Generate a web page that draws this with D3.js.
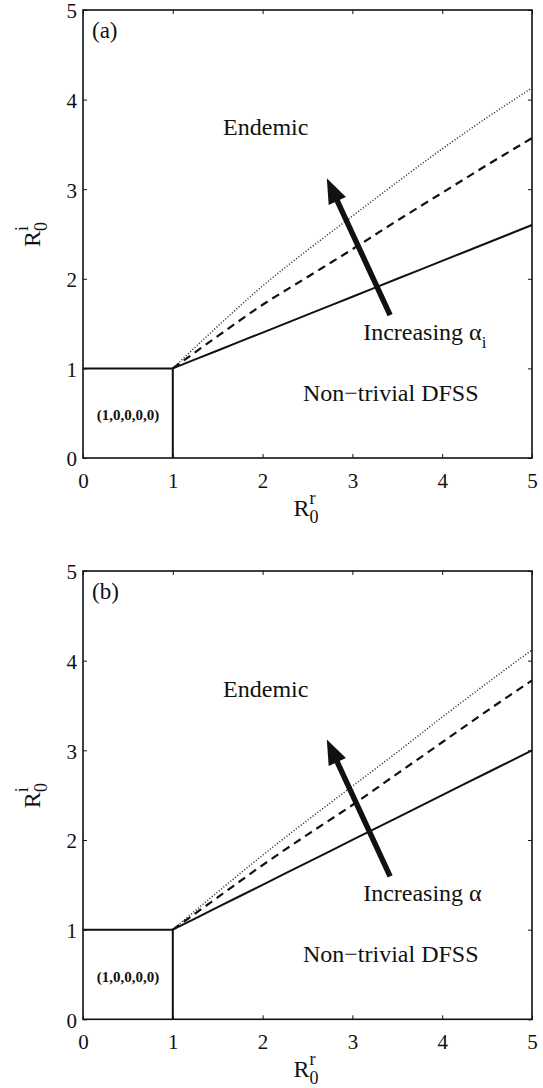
<!DOCTYPE html>
<html>
<head>
<meta charset="utf-8">
<script src="https://cdn.jsdelivr.net/npm/d3@7"></script>
<style>
  html, body { margin: 0; padding: 0; background: #fff; }
  svg { display: block; }
  text { font-family: "Liberation Serif", "Times New Roman", serif; fill: #111; }
</style>
</head>
<body>
<script>
// ---------- data ----------
const xTicks = [0, 1, 2, 3, 4, 5];
const yTicks = [0, 1, 2, 3, 4, 5];
const rr = [1, 1.5, 2, 2.5, 3, 3.5, 4, 4.5, 5];          // R0^r sample points
// panel (a)
const solidA  = [1, 1.2, 1.4, 1.6, 1.8, 2.0, 2.2, 2.4, 2.6];
const dashedA = [1, 1.36, 1.71, 2.02, 2.33, 2.65, 2.96, 3.27, 3.57];
const dottedA = [1, 1.47, 1.92, 2.32, 2.70, 3.08, 3.45, 3.80, 4.13];
// panel (b)
const solidB  = [1, 1.25, 1.5, 1.75, 2.0, 2.25, 2.5, 2.75, 3.0];
const dashedB = [1, 1.36, 1.72, 2.06, 2.39, 2.74, 3.09, 3.44, 3.78];
const dottedB = [1, 1.42, 1.83, 2.22, 2.60, 2.98, 3.37, 3.75, 4.12];
// trivial DFSS box boundary
const boxX = [0, 1, 1];
const boxY = [1, 1, 0];
// arrow (tail -> tip), data coordinates
const arrowFrom = [3.42, 1.595];
const arrowTo   = [2.715, 3.122];
// texts
const panelLabels = ["(a)", "(b)"];
const arrowSubs = ["i", ""];
const regionLabels = ["Endemic", "Non\u2212trivial DFSS"];
const boxLabel = "(1,0,0,0,0)";

// ---------- layout ----------
const W = 543, H = 1088;
const left = 83, right = 532;
const panels = [
  { top: 10,  bottom: 458,   solid: solidA, dashed: dashedA, dotted: dottedA },
  { top: 571, bottom: 1019.3, solid: solidB, dashed: dashedB, dotted: dottedB }
];

const svg = d3.select("body").append("svg").attr("width", W).attr("height", H);
svg.append("rect").attr("width", W).attr("height", H).attr("fill", "#fff");

panels.forEach((p, i) => {
  const x = d3.scaleLinear().domain([0, 5]).range([left, right]);
  const y = d3.scaleLinear().domain([0, 5]).range([p.bottom, p.top]);
  const g = svg.append("g");

  // axes (inward ticks on all sides)
  const ax = g.append("g").attr("transform", `translate(0,${p.bottom})`)
    .call(d3.axisBottom(x).tickValues(xTicks).tickFormat(d3.format("d")).tickSize(-4).tickSizeOuter(0).tickPadding(15));
  const ay = g.append("g").attr("transform", `translate(${left},0)`)
    .call(d3.axisLeft(y).tickValues(yTicks).tickFormat(d3.format("d")).tickSize(-4).tickSizeOuter(0).tickPadding(6));
  const at = g.append("g").attr("transform", `translate(0,${p.top})`)
    .call(d3.axisTop(x).tickValues(xTicks).tickFormat("").tickSize(-4).tickSizeOuter(0));
  const ar = g.append("g").attr("transform", `translate(${right},0)`)
    .call(d3.axisRight(y).tickValues(yTicks).tickFormat("").tickSize(-4).tickSizeOuter(0));
  [ax, ay, at, ar].forEach(a => {
    a.select(".domain").remove();
    a.selectAll("line").attr("stroke", "#111").attr("stroke-width", 1);
    a.selectAll("text").attr("font-family", "Liberation Serif").attr("font-size", 21).attr("fill", "#111");
  });
  ay.selectAll("text").attr("dy", "0.38em");

  // frame
  g.append("rect").attr("x", left).attr("y", p.top)
    .attr("width", right - left).attr("height", p.bottom - p.top)
    .attr("fill", "none").attr("stroke", "#111").attr("stroke-width", 1.6);

  // box boundary
  const lin = d3.line().x(d => x(d[0])).y(d => y(d[1]));
  g.append("path").datum(boxX.map((v, k) => [v, boxY[k]]))
    .attr("d", lin).attr("fill", "none").attr("stroke", "#111").attr("stroke-width", 2);

  const curve = d3.line().x(d => x(d[0])).y(d => y(d[1])).curve(d3.curveMonotoneX);
  g.append("path").datum(rr.map((v, k) => [v, p.dotted[k]]))
    .attr("d", curve).attr("fill", "none").attr("stroke", "#222").attr("stroke-width", 1.5)
    .attr("stroke-dasharray", "1,2");
  g.append("path").datum(rr.map((v, k) => [v, p.dashed[k]]))
    .attr("d", curve).attr("fill", "none").attr("stroke", "#111").attr("stroke-width", 2.2)
    .attr("stroke-dasharray", "8,5.5");
  g.append("path").datum(rr.map((v, k) => [v, p.solid[k]]))
    .attr("d", curve).attr("fill", "none").attr("stroke", "#111").attr("stroke-width", 2);

  // arrow
  const tx = x(arrowFrom[0]), ty = y(arrowFrom[1]);
  const hx = x(arrowTo[0]), hy = y(arrowTo[1]);
  const len = Math.hypot(hx - tx, hy - ty);
  const ux = (hx - tx) / len, uy = (hy - ty) / len;
  const headL = 25, headW = 9.5;
  const bx = hx - ux * headL, by = hy - uy * headL;
  g.append("line").attr("x1", tx).attr("y1", ty).attr("x2", bx + ux * 2).attr("y2", by + uy * 2)
    .attr("stroke", "#111").attr("stroke-width", 5.5);
  g.append("path")
    .attr("d", `M${hx},${hy}L${bx - uy * headW},${by + ux * headW}L${bx + uy * headW},${by - ux * headW}Z`)
    .attr("fill", "#111");

  // texts
  g.append("text").attr("x", x(0.1)).attr("y", y(4.69)).attr("font-size", 23).text(panelLabels[i]);
  g.append("text").attr("x", x(1.56)).attr("y", y(3.6)).attr("font-size", 24).text(regionLabels[0]);
  g.append("text").attr("x", x(2.45)).attr("y", y(0.635)).attr("font-size", 24).text(regionLabels[1]);
  g.append("text").attr("x", x(0.5)).attr("y", y(0.42)).attr("font-size", 15).attr("font-weight", "bold")
    .attr("text-anchor", "middle").text(boxLabel);
  const inc = g.append("text").attr("x", x(3.12)).attr("y", y(1.32)).attr("font-size", 24);
  inc.append("tspan").text("Increasing \u03B1");
  if (arrowSubs[i]) inc.append("tspan").attr("font-size", 17).attr("dy", 8).text(arrowSubs[i]);

  // axis labels
  const xl = g.append("text").attr("x", (left + right) / 2 - 14).attr("y", p.bottom + 58).attr("font-size", 24);
  xl.append("tspan").text("R");
  xl.append("tspan").attr("font-size", 18).attr("dy", -12).text("r");
  xl.append("tspan").attr("font-size", 18).attr("dx", -6).attr("dy", 19).text("0");

  const cy = (p.top + p.bottom) / 2;
  const yl = g.append("text").attr("transform", `translate(40,${cy + 13}) rotate(-90)`).attr("font-size", 24);
  yl.append("tspan").text("R");
  yl.append("tspan").attr("font-size", 18).attr("dy", -12).text("i");
  yl.append("tspan").attr("font-size", 18).attr("dx", -5).attr("dy", 19).text("0");
});
</script>
</body>
</html>
